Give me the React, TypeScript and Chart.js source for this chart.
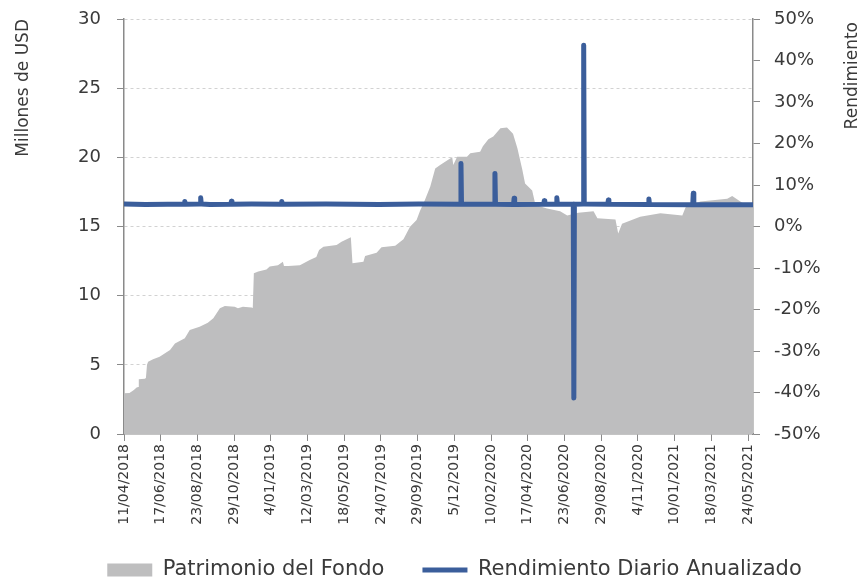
import React, { useEffect, useRef } from 'react';
import { Chart, registerables } from 'chart.js';

Chart.register(...registerables);

const FUENTE = '"DejaVu Sans", sans-serif';
const COLOR_TEXTO = '#3a3a3a';
const COLOR_EJE = '#8a8a8a';
const COLOR_AREA = '#bebebf';
const COLOR_LINEA = '#3b5e9b';

const tituloIzquierdo = 'Millones de USD';
const tituloDerecho = 'Rendimiento';
const nombrePatrimonio = 'Patrimonio del Fondo';
const nombreRendimiento = 'Rendimiento Diario Anualizado';

const fechaInicio = '11/04/2018';
const fechaFin = '02/06/2021';

const etiquetasX = [
  '11/04/2018', '17/06/2018', '23/08/2018', '29/10/2018', '4/01/2019', '12/03/2019',
  '18/05/2019', '24/07/2019', '29/09/2019', '5/12/2019', '10/02/2020', '17/04/2020',
  '23/06/2020', '29/08/2020', '4/11/2020', '10/01/2021', '18/03/2021', '24/05/2021',
];

const fechasPatrimonio = [
  '11/04/2018', '21/04/2018', '29/04/2018', '04/05/2018', '07/05/2018', '08/05/2018',
  '19/05/2018', '21/05/2018', '23/05/2018', '25/05/2018', '03/06/2018', '15/06/2018',
  '04/07/2018', '13/07/2018', '31/07/2018', '09/08/2018', '27/08/2018', '11/09/2018',
  '21/09/2018', '03/10/2018', '12/10/2018', '30/10/2018', '05/11/2018', '14/11/2018',
  '30/11/2018', '02/12/2018', '04/12/2018', '12/12/2018', '27/12/2018', '02/01/2019',
  '17/01/2019', '26/01/2019', '28/01/2019', '05/02/2019', '26/02/2019', '16/03/2019',
  '28/03/2019', '02/04/2019', '10/04/2019', '04/05/2019', '13/05/2019', '30/05/2019',
  '02/06/2019', '22/06/2019', '25/06/2019', '16/07/2019', '25/07/2019', '19/08/2019',
  '03/09/2019', '15/09/2019', '27/09/2019', '03/10/2019', '12/10/2019', '22/10/2019',
  '31/10/2019', '09/11/2019', '23/11/2019', '01/12/2019', '03/12/2019', '10/12/2019',
  '28/12/2019', '03/01/2020', '21/01/2020', '26/01/2020', '05/02/2020', '14/02/2020',
  '27/02/2020', '10/03/2020', '21/03/2020', '29/03/2020', '07/04/2020', '12/04/2020',
  '25/04/2020', '01/05/2020', '22/05/2020', '15/06/2020', '28/06/2020', '18/07/2020',
  '15/08/2020', '22/08/2020', '24/09/2020', '29/09/2020', '06/10/2020', '08/11/2020',
  '15/12/2020', '24/01/2021', '30/01/2021', '26/02/2021', '16/04/2021', '25/04/2021',
  '14/05/2021', '02/06/2021',
];

const valoresPatrimonio = [
  2.94, 2.97, 3.18, 3.37, 3.40, 3.95,
  4.00, 4.05, 5.00, 5.23, 5.40, 5.59,
  6.07, 6.55, 6.92, 7.52, 7.76, 8.05,
  8.37, 9.09, 9.26, 9.20, 9.09, 9.20,
  9.15, 9.10, 11.62, 11.74, 11.90, 12.10,
  12.20, 12.46, 12.15, 12.15, 12.20, 12.58,
  12.80, 13.30, 13.54, 13.66, 13.90, 14.22,
  12.34, 12.46, 12.87, 13.11, 13.50, 13.60,
  14.07, 14.99, 15.47, 16.10, 16.90, 17.90,
  19.20, 19.45, 19.80, 20.00, 19.45, 20.05,
  20.05, 20.30, 20.40, 20.80, 21.30, 21.50,
  22.10, 22.15, 21.70, 20.65, 19.10, 18.10,
  17.60, 16.55, 16.30, 16.10, 15.80, 16.00,
  16.10, 15.60, 15.50, 14.50, 15.20, 15.70,
  15.95, 15.80, 16.40, 16.80, 17.00, 17.20,
  16.70, 16.70,
];

const fechasRendimiento = [
  '11/04/2018', '20/05/2018', '30/06/2018', '30/07/2018', '31/07/2018', '01/08/2018',
  '28/08/2018', '29/08/2018', '30/08/2018', '15/09/2018', '23/10/2018', '24/10/2018',
  '25/10/2018', '30/11/2018', '23/01/2019', '24/01/2019', '25/01/2019', '15/04/2019',
  '20/07/2019', '01/10/2019', '16/12/2019', '17/12/2019', '18/12/2019', '16/02/2020',
  '17/02/2020', '18/02/2020', '22/03/2020', '23/03/2020', '24/03/2020', '16/05/2020',
  '17/05/2020', '18/05/2020', '08/06/2020', '09/06/2020', '10/06/2020', '09/07/2020',
  '10/07/2020', '11/07/2020', '27/07/2020', '28/07/2020', '29/07/2020', '10/09/2020',
  '11/09/2020', '12/09/2020', '23/11/2020', '24/11/2020', '25/11/2020', '12/02/2021',
  '13/02/2021', '14/02/2021', '02/06/2021',
];

const valoresRendimiento = [
  5.40, 5.30, 5.35, 5.35, 6.00, 5.35,
  5.40, 6.90, 5.40, 5.30, 5.35, 6.10,
  5.35, 5.40, 5.35, 6.00, 5.35, 5.40,
  5.30, 5.40, 5.35, 15.20, 5.35, 5.35,
  12.80, 5.35, 5.30, 6.80, 5.30, 5.35,
  6.20, 5.35, 5.35, 6.90, 5.35, 5.35,
  -41.30, 5.35, 5.40, 43.70, 5.40, 5.35,
  6.40, 5.35, 5.30, 6.60, 5.30, 5.25,
  8.00, 5.25, 5.25,
];

const dia = (s: string): number => {
  const [d, m, y] = s.split('/').map(Number);
  const [d0, m0, y0] = fechaInicio.split('/').map(Number);
  return Math.round((Date.UTC(y, m - 1, d) - Date.UTC(y0, m0 - 1, d0)) / 86400000);
};

const tituloDerechoPlugin = {
  id: 'tituloDerecho',
  afterDraw(chart: any) {
    const ctx = chart.ctx;
    ctx.save();
    ctx.font = `17px ${FUENTE}`;
    ctx.fillStyle = COLOR_TEXTO;
    ctx.translate(857, 22);
    ctx.rotate(-Math.PI / 2);
    ctx.textAlign = 'right';
    ctx.textBaseline = 'alphabetic';
    ctx.fillText(tituloDerecho, 0, 0);
    ctx.restore();
  },
};

const ajusteLayoutPlugin = {
  id: 'ajusteLayout',
  afterLayout(chart: any) {
    const l = chart.legend;
    if (l) {
      l.left += 49;
      l.top += 10.5;
      l.bottom += 10.5;
    }
    const x = chart.scales.x;
    if (x) {
      x.bottom = x.top + 100;
    }
  },
};

const sinRellenoVertical = (scale: any, ancho: number) => {
  scale.width = ancho;
  scale.paddingTop = 0;
  scale.paddingBottom = 0;
};

export default function App() {
  const ref = useRef<HTMLCanvasElement | null>(null);

  useEffect(() => {
    if (!ref.current) return;
    const datosPatrimonio = fechasPatrimonio.map((f, i) => ({ x: dia(f), y: valoresPatrimonio[i] }));
    const datosRendimiento = fechasRendimiento.map((f, i) => ({ x: dia(f), y: valoresRendimiento[i] }));
    const ticksX = etiquetasX.map(dia);

    const chart = new Chart(ref.current, {
      type: 'line',
      data: {
        datasets: [
          {
            label: nombrePatrimonio,
            data: datosPatrimonio,
            yAxisID: 'y',
            fill: 'origin',
            backgroundColor: COLOR_AREA,
            borderColor: 'rgba(0,0,0,0)',
            borderWidth: 0,
            pointRadius: 0,
            pointStyle: 'rect',
            tension: 0,
            order: 1,
          },
          {
            label: nombreRendimiento,
            data: datosRendimiento,
            yAxisID: 'y1',
            fill: false,
            borderColor: COLOR_LINEA,
            backgroundColor: COLOR_LINEA,
            borderWidth: 5,
            borderJoinStyle: 'round',
            borderCapStyle: 'round',
            pointRadius: 0,
            pointStyle: 'line',
            tension: 0,
            order: 0,
          },
        ],
      } as any,
      options: {
        responsive: false,
        animation: false,
        events: [],
        layout: { padding: { top: 19, left: 0, right: 0, bottom: 0 } },
        plugins: {
          tooltip: { enabled: false },
          legend: {
            position: 'bottom',
            align: 'center',
            labels: {
              usePointStyle: true,
              pointStyleWidth: 45,
              boxHeight: 13,
              padding: 38,
              color: COLOR_TEXTO,
              font: { family: FUENTE, size: 21 },
              sort: (a: any, b: any) => a.datasetIndex - b.datasetIndex,
            },
          },
        },
        scales: {
          x: {
            type: 'linear',
            min: 0,
            max: dia(fechaFin),
            afterBuildTicks: (scale: any) => {
              scale.ticks = ticksX.map((v) => ({ value: v }));
            },
            afterFit: (scale: any) => {
              scale.height = 77;
            },
            ticks: {
              autoSkip: false,
              minRotation: 90,
              maxRotation: 90,
              padding: 3,
              color: COLOR_TEXTO,
              font: { family: FUENTE, size: 14 },
              callback: (_v: any, i: number) => etiquetasX[i],
            },
            grid: {
              drawOnChartArea: false,
              drawTicks: true,
              tickLength: 7,
              tickColor: COLOR_EJE,
            },
            border: { display: true, color: COLOR_EJE, width: 1.5 },
          },
          y: {
            position: 'left',
            min: 0,
            max: 30,
            afterFit: (scale: any) => sinRellenoVertical(scale, 124),
            ticks: {
              stepSize: 5,
              padding: 16,
              color: COLOR_TEXTO,
              font: { family: FUENTE, size: 18 },
            },
            grid: {
              color: (c: any) => (c.tick && c.tick.value === 0 ? 'rgba(0,0,0,0)' : '#d2d2d2'),
              lineWidth: 1,
              tickLength: 7,
              tickColor: COLOR_EJE,
            },
            border: { display: true, color: COLOR_EJE, width: 1.5, dash: [3, 3] },
            title: {
              display: true,
              text: tituloIzquierdo,
              align: 'end',
              color: COLOR_TEXTO,
              font: { family: FUENTE, size: 17 },
              padding: { top: 13, bottom: 0 },
            },
          },
          y1: {
            position: 'right',
            min: -50,
            max: 50,
            afterFit: (scale: any) => sinRellenoVertical(scale, 107),
            ticks: {
              stepSize: 10,
              padding: 14,
              color: COLOR_TEXTO,
              font: { family: FUENTE, size: 18 },
              callback: (v: any) => `${v}%`,
            },
            grid: {
              drawOnChartArea: false,
              tickLength: 7,
              tickColor: COLOR_EJE,
            },
            border: { display: true, color: COLOR_EJE, width: 1.5 },
          },
        },
      } as any,
      plugins: [tituloDerechoPlugin, ajusteLayoutPlugin],
    });

    return () => chart.destroy();
  }, []);

  return (
    <div style={{ position: 'absolute', left: 0, top: 0, width: 860, height: 580, background: '#fff' }}>
      <canvas ref={ref} width={860} height={580} style={{ display: 'block' }} />
    </div>
  );
}
